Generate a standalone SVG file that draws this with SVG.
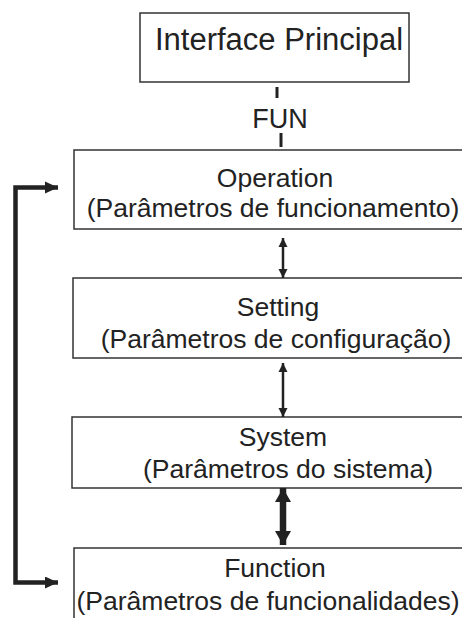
<svg xmlns="http://www.w3.org/2000/svg" width="462" height="618" viewBox="0 0 462 618">
<style>
.box{fill:#fff;stroke:#333;stroke-width:1.5}
.t{font-family:"Liberation Sans",Arial,sans-serif;fill:#222;text-anchor:middle}
.m{font-size:26.5px}
.c{stroke:#222;fill:none}
</style>
<defs>
<marker id="a1" markerUnits="userSpaceOnUse" markerWidth="10" markerHeight="10" refX="9" refY="5" orient="auto-start-reverse" viewBox="0 0 10 10"><path d="M0,0.5 L9,5 L0,9.5 Z" fill="#222"/></marker>
<marker id="a3" markerUnits="userSpaceOnUse" markerWidth="15" markerHeight="16" refX="14" refY="8" orient="auto-start-reverse" viewBox="0 0 15 16"><path d="M0,0 L14,8 L0,16 Z" fill="#222"/></marker>
<marker id="aL" markerUnits="userSpaceOnUse" markerWidth="14" markerHeight="12" refX="13" refY="6" orient="auto" viewBox="0 0 14 12"><path d="M0,0 L13,6 L0,12 Z" fill="#222"/></marker>
</defs>
<g id="interface">
<rect class="box" x="140" y="13" width="269" height="69"/>
<text class="t" x="279" y="50" font-size="31">Interface Principal</text>
</g>
<g id="fun">
<text class="t" x="280" y="128" font-size="27">FUN</text>
</g>
<g id="operation">
<rect class="box" x="74" y="150" width="400" height="79"/>
<text class="t m" x="275" y="187">Operation</text>
<text class="t m" x="273" y="217">(Parâmetros de funcionamento)</text>
</g>
<g id="setting">
<rect class="box" x="73" y="278" width="400" height="80"/>
<text class="t m" x="278" y="316">Setting</text>
<text class="t m" x="276" y="348">(Parâmetros de configuração)</text>
</g>
<g id="system">
<rect class="box" x="72" y="417" width="400" height="71"/>
<text class="t m" x="283" y="446">System</text>
<text class="t m" x="288" y="478">(Parâmetros do sistema)</text>
</g>
<g id="function">
<rect class="box" x="74" y="548" width="400" height="80"/>
<text class="t m" x="275" y="577">Function</text>
<text class="t m" x="268" y="610">(Parâmetros de funcionalidades)</text>
</g>
<g id="connectors">
<line class="c" x1="277" y1="87" x2="277" y2="98" stroke-width="3"/>
<line class="c" x1="281" y1="133" x2="281" y2="147" stroke-width="3"/>
<line class="c" x1="283" y1="238" x2="283" y2="278" stroke-width="2.5" marker-start="url(#a1)" marker-end="url(#a1)"/>
<line class="c" x1="283" y1="363" x2="283" y2="417" stroke-width="2.5" marker-start="url(#a1)" marker-end="url(#a1)"/>
<line class="c" x1="283" y1="488" x2="283" y2="545" stroke-width="6.5" marker-start="url(#a3)" marker-end="url(#a3)"/>
<path class="c" d="M58,187.5 H15.5 V582.5 H58" stroke-width="4.5" marker-end="url(#aL)"/>
<polygon points="45,181.5 58,187.5 45,193.5" fill="#222"/>
</g>
</svg>
